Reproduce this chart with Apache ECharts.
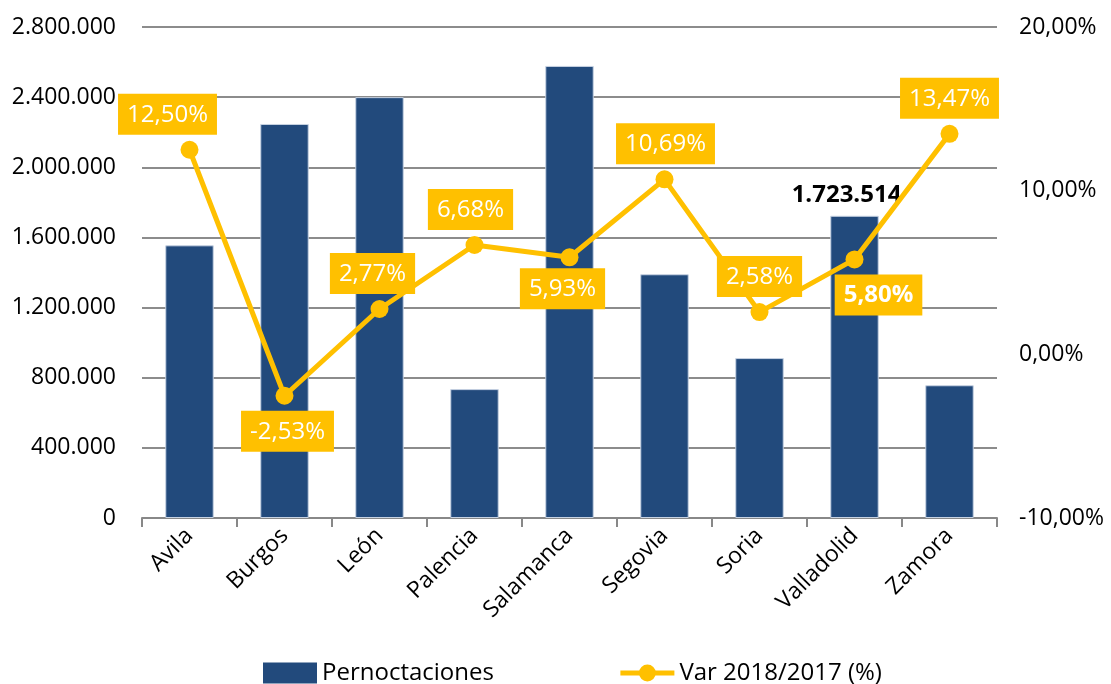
<!DOCTYPE html>
<html lang="es">
<head>
    <meta charset="UTF-8">
    <title>Pernoctaciones</title>
    <script src="https://cdn.jsdelivr.net/npm/echarts@6/dist/echarts.min.js"></script>
    <style>
        html, body { margin: 0; padding: 0; background: #fff; }
        #main { width: 1111px; height: 684px; }
    </style>
</head>
<body>
<div id="main"></div>
<script>
    // datos
    var provincias = ['Avila', 'Burgos', 'León', 'Palencia', 'Salamanca', 'Segovia', 'Soria', 'Valladolid', 'Zamora'];
    var pernoctaciones = [1555000, 2247000, 2400000, 735000, 2578000, 1390000, 912000, 1723514, 757000];
    var variacion = [12.50, -2.53, 2.77, 6.68, 5.93, 10.69, 2.58, 5.80, 13.47];

    var FONT = 'Open Sans';
    var AMARILLO = '#FFC000';
    var AZUL = '#224A7C';

    function miles(v) {
        return String(Math.round(v)).replace(/\B(?=(\d{3})+(?!\d))/g, '.');
    }
    function pct(v) {
        return v.toFixed(2).replace('.', ',') + '%';
    }

    // posicion de cada etiqueta de la linea
    var labelPos = ['top', 'bottom', 'top', 'top', 'bottom', 'top', 'top', 'bottom', 'top'];
    var labelOff = [[-22, 0], [3, 0], [-7, 0], [-4, 0], [-7, -4], [1, 0], [0, 0], [24, 0], [0, 0]];

    var lineData = variacion.map(function (v, i) {
        var d = {
            value: v,
            label: { position: labelPos[i], offset: labelOff[i] }
        };
        if (provincias[i] === 'Valladolid') d.label.fontWeight = 'bold';
        return d;
    });

    var barData = pernoctaciones.map(function (v, i) {
        var d = { value: v };
        if (provincias[i] === 'Valladolid') {
            d.label = {
                show: true, position: 'top', offset: [-8, -4],
                color: '#000', fontWeight: 'bold', fontSize: 24, fontFamily: FONT,
                formatter: function (p) { return miles(p.value); }
            };
        }
        return d;
    });

    var chart = echarts.init(document.getElementById('main'));
    var option = {
        animation: false,
        textStyle: { fontFamily: FONT },
        grid: { left: 142, right: 114, top: 27, bottom: 166 },
        legend: {
            bottom: -6,
            left: 258,
            itemGap: 124,
            itemWidth: 54,
            itemHeight: 21,
            textStyle: { fontSize: 24, color: '#000', fontFamily: FONT },
            data: [
                { name: 'Pernoctaciones', icon: 'rect', itemStyle: { borderWidth: 0 } },
                { name: 'Var 2018/2017 (%)', lineStyle: { width: 5 }, itemStyle: { borderWidth: 0 } }
            ]
        },
        xAxis: {
            type: 'category',
            data: provincias,
            axisLine: { lineStyle: { color: '#888', width: 2 } },
            axisTick: { show: true, length: 9, lineStyle: { color: '#888', width: 2 } },
            axisLabel: { rotate: 45, fontSize: 23, color: '#000', margin: 14, fontFamily: FONT }
        },
        yAxis: [
            {
                type: 'value', min: 0, max: 2800000, interval: 400000,
                axisLine: { show: false },
                axisTick: { show: false },
                splitLine: { lineStyle: { color: '#8c8c8c', width: 2 } },
                axisLabel: { fontSize: 23, color: '#000', margin: 26, fontFamily: FONT, formatter: miles }
            },
            {
                type: 'value', min: -10, max: 20, interval: 10,
                axisLine: { show: false },
                axisTick: { show: false },
                splitLine: { show: false },
                axisLabel: { fontSize: 23, color: '#000', margin: 22, fontFamily: FONT, formatter: pct }
            }
        ],
        series: [
            {
                name: 'Pernoctaciones',
                type: 'bar',
                barWidth: '51%',
                data: barData,
                itemStyle: { color: AZUL, borderColor: '#c8d3e3', borderWidth: 1 }
            },
            {
                name: 'Var 2018/2017 (%)',
                type: 'line',
                yAxisIndex: 1,
                data: lineData,
                symbol: 'circle',
                symbolSize: 18,
                itemStyle: { color: AMARILLO },
                lineStyle: { color: AMARILLO, width: 5 },
                label: {
                    show: true,
                    color: '#fff',
                    fontSize: 24,
                    lineHeight: 28,
                    fontFamily: FONT,
                    backgroundColor: AMARILLO,
                    padding: [7, 9, 6, 9],
                    distance: 6,
                    formatter: function (p) { return pct(p.value); }
                }
            }
        ]
    };
    chart.setOption(option);
</script>
</body>
</html>
